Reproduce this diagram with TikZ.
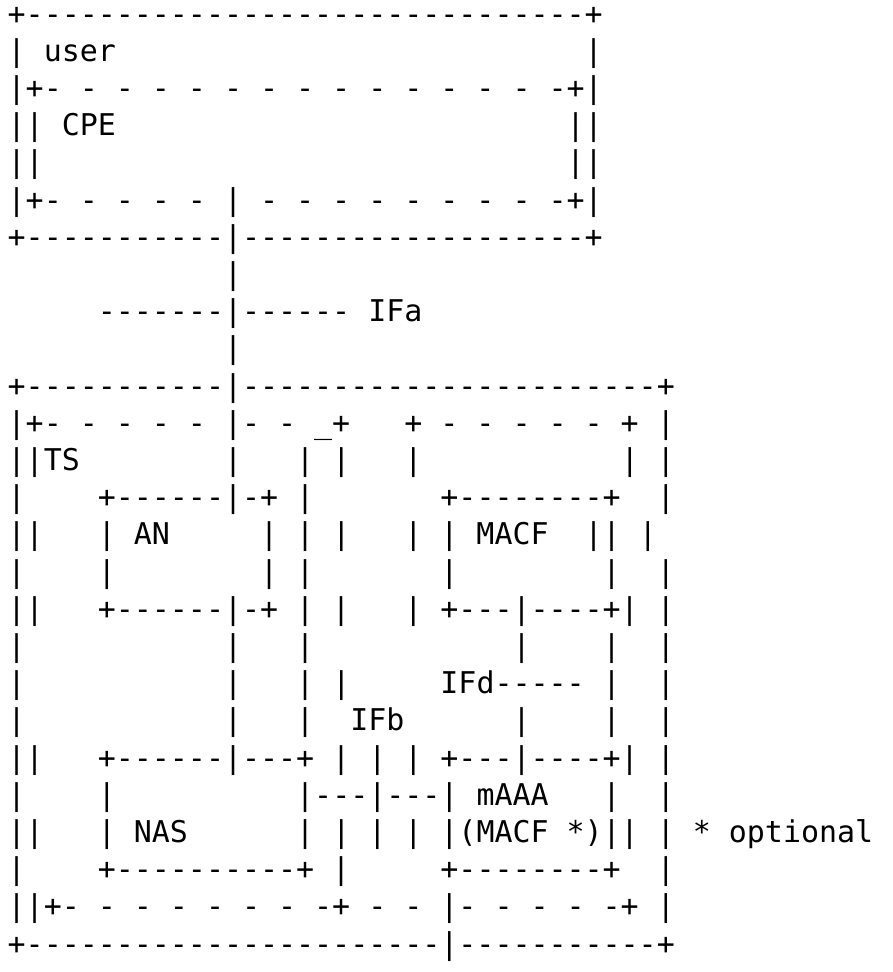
\documentclass[tikz,border=0pt]{standalone}
\usepackage{fontspec}
\setmonofont{DejaVu Sans Mono}
\frenchspacing
% one text row of the character drawing; each character cell is 18.03pt wide
\tikzset{
  asciirow/.style={anchor=base west, inner sep=0pt, outer sep=0pt,
    font=\ttfamily\fontsize{29.95}{37.2}\selectfont}
}
\begin{document}
\begin{tikzpicture}[x=1pt,y=1pt]
\useasboundingbox (0,0) rectangle (892,-972);
\def\lx{7.7}
\def\pitch{37.2}
\node[asciirow] (r1)  at (\lx,-24-\pitch*0)  {+-------------------------------+};
\node[asciirow] (r2)  at (\lx,-24-\pitch*1)  {|~user~~~~~~~~~~~~~~~~~~~~~~~~~~|};
\node[asciirow] (r3)  at (\lx,-24-\pitch*2)  {|+-~-~-~-~-~-~-~-~-~-~-~-~-~-~-+|};
\node[asciirow] (r4)  at (\lx,-24-\pitch*3)  {||~CPE~~~~~~~~~~~~~~~~~~~~~~~~~||};
\node[asciirow] (r5)  at (\lx,-24-\pitch*4)  {||~~~~~~~~~~~~~~~~~~~~~~~~~~~~~||};
\node[asciirow] (r6)  at (\lx,-24-\pitch*5)  {|+-~-~-~-~-~|~-~-~-~-~-~-~-~-~-+|};
\node[asciirow] (r7)  at (\lx,-24-\pitch*6)  {+-----------|-------------------+};
\node[asciirow] (r8)  at (\lx,-24-\pitch*7)  {~~~~~~~~~~~~|};
\node[asciirow] (r9)  at (\lx,-24-\pitch*8)  {~~~~~-------|------~IFa};
\node[asciirow] (r10) at (\lx,-24-\pitch*9)  {~~~~~~~~~~~~|};
\node[asciirow] (r11) at (\lx,-24-\pitch*10) {+-----------|-----------------------+};
\node[asciirow] (r12) at (\lx,-24-\pitch*11) {|+-~-~-~-~-~|-~-~\_+~~~+~-~-~-~-~-~+~|};
\node[asciirow] (r13) at (\lx,-24-\pitch*12) {||TS~~~~~~~~|~~~|~|~~~|~~~~~~~~~~~|~|};
\node[asciirow] (r14) at (\lx,-24-\pitch*13) {|~~~~+------|-+~|~~~~~~~+--------+~~|};
\node[asciirow] (r15) at (\lx,-24-\pitch*14) {||~~~|~AN~~~~~|~|~|~~~|~|~MACF~~||~|};
\node[asciirow] (r16) at (\lx,-24-\pitch*15) {|~~~~|~~~~~~~~|~|~~~~~~~|~~~~~~~~|~~|};
\node[asciirow] (r17) at (\lx,-24-\pitch*16) {||~~~+------|-+~|~|~~~|~+---|----+|~|};
\node[asciirow] (r18) at (\lx,-24-\pitch*17) {|~~~~~~~~~~~|~~~|~~~~~~~~~~~|~~~~|~~|};
\node[asciirow] (r19) at (\lx,-24-\pitch*18) {|~~~~~~~~~~~|~~~|~|~~~~~IFd-----~|~~|};
\node[asciirow] (r20) at (\lx,-24-\pitch*19) {|~~~~~~~~~~~|~~~|~~IFb~~~~~~|~~~~|~~|};
\node[asciirow] (r21) at (\lx,-24-\pitch*20) {||~~~+------|---+~|~|~|~+---|----+|~|};
\node[asciirow] (r22) at (\lx,-24-\pitch*21) {|~~~~|~~~~~~~~~~|---|---|~mAAA~~~|~~|};
\node[asciirow] (r23) at (\lx,-24-\pitch*22) {||~~~|~NAS~~~~~~|~|~|~|~|(MACF~*)||~|~*~optional};
\node[asciirow] (r24) at (\lx,-24-\pitch*23) {|~~~~+----------+~|~~~~~+--------+~~|};
\node[asciirow] (r25) at (\lx,-24-\pitch*24) {||+-~-~-~-~-~-~-~-+~-~-~|-~-~-~-~-+~|};
\node[asciirow] (r26) at (\lx,-24-\pitch*25) {+-----------------------|-----------+};
\end{tikzpicture}
\end{document}
